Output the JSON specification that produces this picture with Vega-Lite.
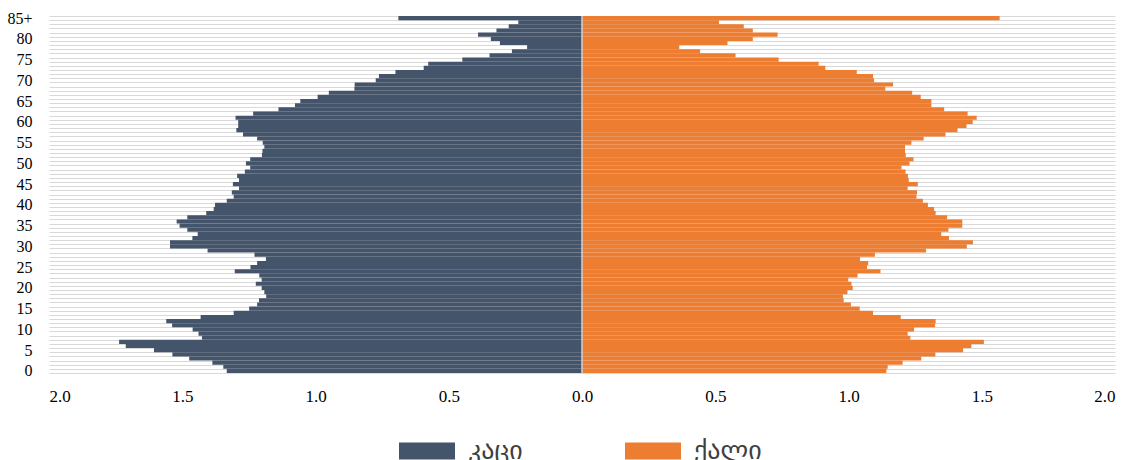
{
  "$schema": "https://vega.github.io/schema/vega-lite/v6.json",
  "width": 1066,
  "height": 357,
  "autosize": {"type": "none"},
  "padding": {"left": 49, "top": 16, "right": 24, "bottom": 87},
  "background": "white",
  "config": {"view": {"stroke": null}},
  "data": {
    "values": [
      {"age": 0, "men": -1.333, "women": 1.142},
      {"age": 1, "men": -1.346, "women": 1.147},
      {"age": 2, "men": -1.387, "women": 1.203},
      {"age": 3, "men": -1.474, "women": 1.273},
      {"age": 4, "men": -1.537, "women": 1.326},
      {"age": 5, "men": -1.606, "women": 1.43},
      {"age": 6, "men": -1.712, "women": 1.461},
      {"age": 7, "men": -1.737, "women": 1.508},
      {"age": 8, "men": -1.426, "women": 1.232},
      {"age": 9, "men": -1.439, "women": 1.222},
      {"age": 10, "men": -1.461, "women": 1.246},
      {"age": 11, "men": -1.538, "women": 1.325},
      {"age": 12, "men": -1.56, "women": 1.327},
      {"age": 13, "men": -1.431, "women": 1.196},
      {"age": 14, "men": -1.307, "women": 1.092},
      {"age": 15, "men": -1.249, "women": 1.042},
      {"age": 16, "men": -1.219, "women": 1.009},
      {"age": 17, "men": -1.212, "women": 0.982},
      {"age": 18, "men": -1.185, "women": 0.979},
      {"age": 19, "men": -1.192, "women": 0.996},
      {"age": 20, "men": -1.202, "women": 1.016},
      {"age": 21, "men": -1.224, "women": 1.011},
      {"age": 22, "men": -1.202, "women": 0.999},
      {"age": 23, "men": -1.211, "women": 1.034},
      {"age": 24, "men": -1.303, "women": 1.12},
      {"age": 25, "men": -1.244, "women": 1.07},
      {"age": 26, "men": -1.219, "women": 1.074},
      {"age": 27, "men": -1.186, "women": 1.043},
      {"age": 28, "men": -1.229, "women": 1.099},
      {"age": 29, "men": -1.405, "women": 1.291},
      {"age": 30, "men": -1.546, "women": 1.444},
      {"age": 31, "men": -1.546, "women": 1.467},
      {"age": 32, "men": -1.462, "women": 1.377},
      {"age": 33, "men": -1.442, "women": 1.348},
      {"age": 34, "men": -1.481, "women": 1.375},
      {"age": 35, "men": -1.51, "women": 1.427},
      {"age": 36, "men": -1.521, "women": 1.427},
      {"age": 37, "men": -1.481, "women": 1.37},
      {"age": 38, "men": -1.41, "women": 1.327},
      {"age": 39, "men": -1.382, "women": 1.321},
      {"age": 40, "men": -1.377, "women": 1.298},
      {"age": 41, "men": -1.333, "women": 1.279},
      {"age": 42, "men": -1.307, "women": 1.255},
      {"age": 43, "men": -1.314, "women": 1.257},
      {"age": 44, "men": -1.287, "women": 1.222},
      {"age": 45, "men": -1.31, "women": 1.26},
      {"age": 46, "men": -1.287, "women": 1.226},
      {"age": 47, "men": -1.294, "women": 1.223},
      {"age": 48, "men": -1.265, "women": 1.214},
      {"age": 49, "men": -1.245, "women": 1.199},
      {"age": 50, "men": -1.261, "women": 1.229},
      {"age": 51, "men": -1.245, "women": 1.244},
      {"age": 52, "men": -1.201, "women": 1.215},
      {"age": 53, "men": -1.199, "women": 1.212},
      {"age": 54, "men": -1.192, "women": 1.212},
      {"age": 55, "men": -1.198, "women": 1.236},
      {"age": 56, "men": -1.219, "women": 1.282},
      {"age": 57, "men": -1.272, "women": 1.364},
      {"age": 58, "men": -1.297, "women": 1.409},
      {"age": 59, "men": -1.29, "women": 1.443},
      {"age": 60, "men": -1.29, "women": 1.466},
      {"age": 61, "men": -1.3, "women": 1.481},
      {"age": 62, "men": -1.234, "women": 1.447},
      {"age": 63, "men": -1.139, "women": 1.359},
      {"age": 64, "men": -1.077, "women": 1.311},
      {"age": 65, "men": -1.057, "women": 1.311},
      {"age": 66, "men": -0.992, "women": 1.271},
      {"age": 67, "men": -0.95, "women": 1.239},
      {"age": 68, "men": -0.854, "women": 1.138},
      {"age": 69, "men": -0.853, "women": 1.167},
      {"age": 70, "men": -0.774, "women": 1.096},
      {"age": 71, "men": -0.762, "women": 1.092},
      {"age": 72, "men": -0.7, "women": 1.031},
      {"age": 73, "men": -0.594, "women": 0.913},
      {"age": 74, "men": -0.577, "women": 0.888},
      {"age": 75, "men": -0.449, "women": 0.738},
      {"age": 76, "men": -0.347, "women": 0.576},
      {"age": 77, "men": -0.263, "women": 0.443},
      {"age": 78, "men": -0.206, "women": 0.365},
      {"age": 79, "men": -0.308, "women": 0.546},
      {"age": 80, "men": -0.342, "women": 0.641},
      {"age": 81, "men": -0.39, "women": 0.734},
      {"age": 82, "men": -0.321, "women": 0.641},
      {"age": 83, "men": -0.275, "women": 0.607},
      {"age": 84, "men": -0.239, "women": 0.514},
      {"age": 85, "men": -0.689, "women": 1.567}
    ]
  },
  "layer": [
    {
      "transform": [{"fold": ["men", "women"], "as": ["sex", "value"]}],
      "mark": {"type": "bar"},
      "encoding": {
        "y": {
          "field": "age",
          "type": "ordinal",
          "sort": "descending",
          "scale": {"paddingInner": 0, "paddingOuter": 0},
          "axis": {
            "title": null,
            "ticks": false,
            "domain": false,
            "grid": true,
            "tickBand": "extent",
            "gridColor": "#d9d9d9",
            "gridWidth": 1,
            "labelFont": "Liberation Serif",
            "labelFontSize": 16,
            "labelColor": "#000000",
            "labelPadding": 17,
            "labelOverlap": false,
            "labelExpr": "datum.value == 85 ? '85+' : (datum.value % 5 == 0 ? '' + datum.value : '')"
          }
        },
        "x": {
          "field": "value",
          "type": "quantitative",
          "stack": null,
          "scale": {"domain": [-2, 2], "nice": false},
          "axis": {
            "title": null,
            "values": [-2, -1.5, -1, -0.5, 0, 0.5, 1, 1.5, 2],
            "labelExpr": "format(abs(datum.value), '.1f')",
            "grid": false,
            "ticks": false,
            "domain": false,
            "labelFont": "Liberation Serif",
            "labelFontSize": 17,
            "labelColor": "#000000",
            "labelPadding": 15
          }
        },
        "color": {
          "field": "sex",
          "type": "nominal",
          "scale": {"domain": ["men", "women"], "range": ["#44546a", "#ed7d31"]},
          "legend": {
            "title": null,
            "orient": "none",
            "direction": "horizontal",
            "legendX": 350,
            "legendY": 407,
            "symbolType": "M-1,-0.3H1V0.3H-1Z",
            "symbolSize": 3136,
            "symbolStrokeWidth": 0,
            "symbolOpacity": 1,
            "labelFont": "DejaVu Sans",
            "labelFontSize": 26,
            "labelColor": "#404040",
            "labelOffset": 13,
            "columnPadding": 102,
            "labelExpr": "datum.value == 'men' ? 'კაცი' : 'ქალი'"
          }
        }
      }
    },
    {
      "data": {"values": [{}]},
      "mark": {"type": "rule", "color": "#d0d0d0", "strokeWidth": 1.5},
      "encoding": {"x": {"datum": 0}}
    }
  ]
}
